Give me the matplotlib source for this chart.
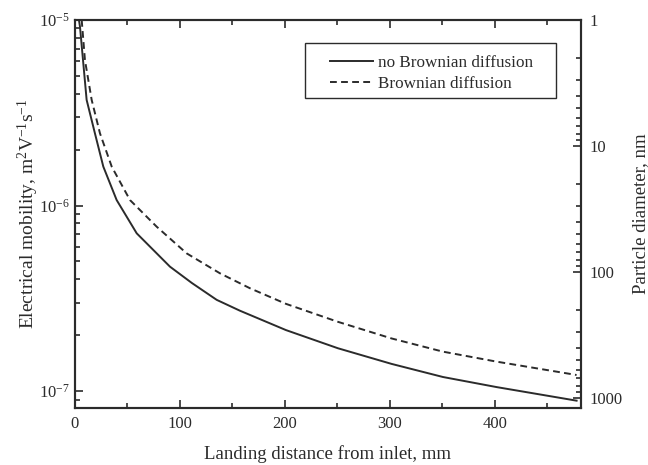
import numpy as np
import matplotlib
matplotlib.use("Agg")
import matplotlib.pyplot as plt
from matplotlib.patches import Rectangle
from matplotlib.ticker import FixedLocator, FixedFormatter, LogLocator, NullFormatter, MultipleLocator

plt.rcParams["font.family"] = ["Liberation Serif", "DejaVu Serif"]
plt.rcParams["mathtext.fontset"] = "custom"
plt.rcParams["mathtext.rm"] = "Liberation Serif"
plt.rcParams["mathtext.it"] = "Liberation Serif:italic"
plt.rcParams["axes.unicode_minus"] = False

# landing distance (mm) and electrical mobility (m2/Vs)
x_no_brown = [3.8, 4.8, 11.1, 19.0, 27.0, 39.7, 58.8, 90.5, 111.4, 135.0, 157.1,
              201.0, 250.5, 301.6, 350.5, 401.6, 477.8]
mob_no_brown = [1.0e-5, 9.17e-6, 3.71e-6, 2.45e-6, 1.62e-6, 1.07e-6, 7.08e-7, 4.68e-7,
                3.82e-7, 3.10e-7, 2.71e-7, 2.13e-7, 1.70e-7, 1.40e-7, 1.19e-7,
                1.05e-7, 8.87e-8]

x_brown = [6.4, 9.5, 15.9, 23.8, 35.0, 52.4, 77.8, 106.4, 138.1, 166.7, 201.0,
           250.5, 301.6, 350.5, 401.6, 477.8]
mob_brown = [1.0e-5, 6.08e-6, 3.71e-6, 2.45e-6, 1.62e-6, 1.07e-6, 7.69e-7, 5.52e-7,
             4.31e-7, 3.58e-7, 2.95e-7, 2.36e-7, 1.92e-7, 1.63e-7, 1.44e-7, 1.22e-7]

diam_ticks = [1, 10, 100, 1000]
diam_labels = ["1", "10", "100", "1000"]

col = "#2b2b2b"

fig = plt.figure(figsize=(6.48, 4.65), dpi=100)
ax = fig.add_axes([0.1157, 0.1226, 0.7809, 0.8344])

ax.plot(x_no_brown, mob_no_brown, color=col, lw=1.4, label="no Brownian diffusion")
ax.plot(x_brown, mob_brown, color=col, lw=1.4, dashes=(3.5, 2.2), label="Brownian diffusion")

ax.set_yscale("log")
ax.set_xlim(0, 482)
ax.set_ylim(8.1e-8, 1e-5)
ax.xaxis.set_major_locator(MultipleLocator(100))
ax.xaxis.set_minor_locator(MultipleLocator(50))
ax.yaxis.set_major_locator(LogLocator(base=10, numticks=10))
ax.yaxis.set_minor_locator(LogLocator(base=10, subs=np.arange(2, 10), numticks=10))
ax.yaxis.set_minor_formatter(NullFormatter())
ax.tick_params(which="both", direction="in", top=True, right=False, colors=col,
               labelsize=12, labelcolor=col, width=1.2)
ax.tick_params(which="major", length=6, pad=6)
ax.tick_params(which="minor", length=3.5)
ax.tick_params(axis="y", which="major", pad=4)
for s in ax.spines.values():
    s.set_linewidth(1.5)
    s.set_color(col)

ax.set_xlabel("Landing distance from inlet, mm", fontsize=13.5, color=col, labelpad=9)
ax.set_ylabel("Electrical mobility, m$^2$V$^{-1}$s$^{-1}$", fontsize=14, color=col, labelpad=-2)

# legend without its own frame, box drawn separately to get the wide padding
leg = ax.legend(loc="upper left", bbox_to_anchor=(0.504, 0.911), fontsize=12.3,
                frameon=False, handlelength=2.5, borderpad=0, borderaxespad=0,
                labelspacing=0.33, handletextpad=0.3)
for t in leg.get_texts():
    t.set_color(col)
ax.add_patch(Rectangle((0.4545, 0.799), 0.496, 0.1418, transform=ax.transAxes,
                       fill=False, edgecolor=col, lw=1.0, zorder=5))

ax2 = ax.twinx()
ax2.set_yscale("log")
ax2.set_ylim(1200, 1)
ax2.yaxis.set_major_locator(FixedLocator(diam_ticks))
ax2.yaxis.set_major_formatter(FixedFormatter(diam_labels))
ax2.yaxis.set_minor_locator(LogLocator(base=10, subs=np.arange(2, 10), numticks=10))
ax2.yaxis.set_minor_formatter(NullFormatter())
ax2.tick_params(which="both", direction="in", colors=col, labelsize=12,
                labelcolor=col, width=1.2)
ax2.tick_params(which="major", length=6, pad=6)
ax2.tick_params(which="minor", length=3.5)
ax2.set_ylabel("Particle diameter, nm", fontsize=13.5, color=col, labelpad=7)
for s in ax2.spines.values():
    s.set_linewidth(1.5)
    s.set_color(col)

fig.savefig("out.png", dpi=100)
